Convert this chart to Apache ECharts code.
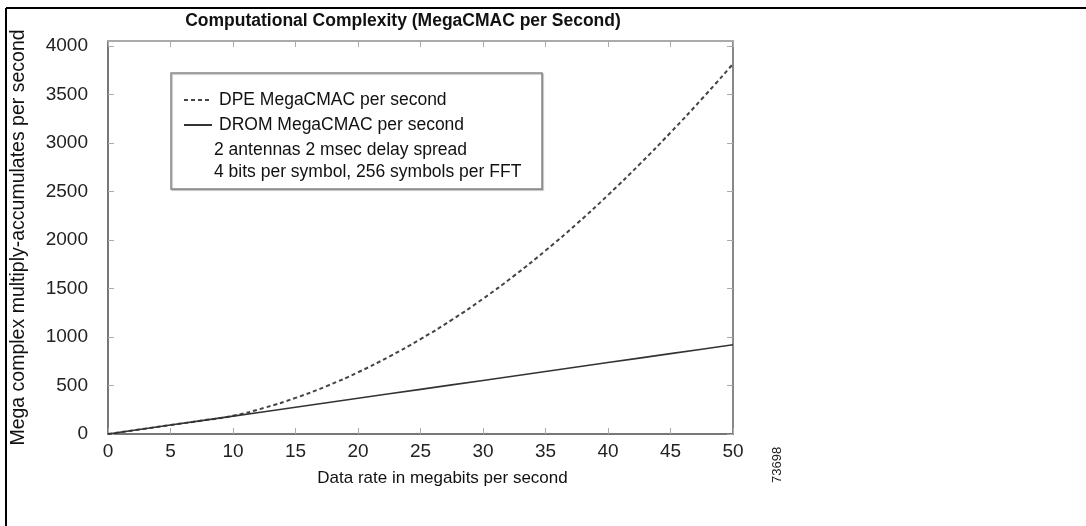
<!DOCTYPE html>
<html>
<head>
<meta charset="utf-8">
<script src="https://cdn.jsdelivr.net/npm/echarts@6/dist/echarts.min.js"></script>
<style>
html,body{margin:0;padding:0;background:#fff;}
#chart{width:1086px;height:526px;}
</style>
</head>
<body>
<div id="chart"></div>
<script>
// Data rate (megabits per second)
var dataRate = [0, 2.5, 5, 7.5, 10, 12.5, 15, 17.5, 20, 22.5, 25, 27.5, 30, 32.5, 35, 37.5, 40, 42.5, 45, 47.5, 50];
// DPE MegaCMAC per second (dashed)
var dpeValues = [0, 46, 92, 138, 188, 270, 372, 494, 636, 798, 978, 1176, 1394, 1632, 1890, 2166, 2462, 2776, 3106, 3452, 3814];
// DROM MegaCMAC per second (solid)
var dromValues = [0, 46, 92, 138, 184, 230, 276, 322, 368, 414, 460, 506, 552, 598, 644, 690, 736, 782, 828, 874, 920];

var titleText = 'Computational Complexity (MegaCMAC per Second)';
var xName = 'Data rate in megabits per second';
var yName = 'Mega complex multiply-accumulates per second';
var seriesNames = ['DPE MegaCMAC per second', 'DROM MegaCMAC per second'];
var noteLines = ['2 antennas 2 msec delay spread', '4 bits per symbol, 256 symbols per FFT'];
var figureId = '73698';

function pairs(xs, ys) { return xs.map(function (x, i) { return [x, ys[i]]; }); }

var FONT = 'Liberation Sans, Arial, sans-serif';
var chart = echarts.init(document.getElementById('chart'), null, {renderer: 'canvas'});

var option = {
  backgroundColor: '#fff',
  animation: false,
  title: {
    text: titleText,
    left: 398, top: 7, textAlign: 'center',
    textStyle: {fontFamily: FONT, fontSize: 17.5, fontWeight: 'bold', color: '#111'}
  },
  grid: {left: 108, top: 41, right: 353, bottom: 92, show: false, containLabel: false, outerBoundsMode: 'none'},
  legend: {
    data: [
      {name: seriesNames[0]},
      {name: seriesNames[1]}
    ],
    orient: 'vertical',
    left: 178, top: 86,
    itemWidth: 28, itemHeight: 10, itemGap: 7,
    itemStyle: {opacity: 0},
    textStyle: {fontFamily: FONT, fontSize: 17.5, color: '#111', padding: [0, 0, 0, 2]},
    selectedMode: false
  },
  xAxis: [{
    type: 'value', min: 0, max: 50, interval: 5,
    name: xName, nameLocation: 'middle', nameGap: 36,
    nameTextStyle: {fontFamily: FONT, fontSize: 17, color: '#111', padding: [0, 0, 0, 44]},
    axisLine: {show: true, onZero: false, lineStyle: {color: '#777', width: 2}},
    axisTick: {show: true, inside: true, length: 6, lineStyle: {color: '#aaa'}},
    axisLabel: {fontFamily: FONT, fontSize: 19, color: '#222', margin: 8},
    splitLine: {show: false}
  }, {
    type: 'value', min: 0, max: 50, interval: 5, position: 'top',
    axisLine: {show: true, onZero: false, lineStyle: {color: '#aaa', width: 2}},
    axisTick: {show: true, inside: true, length: 6, lineStyle: {color: '#aaa'}},
    axisLabel: {show: false},
    splitLine: {show: false}
  }],
  yAxis: [{
    type: 'value', min: 0, max: 4050, interval: 500,
    name: yName, nameLocation: 'middle', nameGap: 79,
    nameTextStyle: {fontFamily: FONT, fontSize: 19.5, color: '#111'},
    axisLine: {show: true, onZero: false, lineStyle: {color: '#777', width: 2}},
    axisTick: {show: true, inside: true, length: 6, lineStyle: {color: '#aaa'}},
    axisLabel: {
      fontFamily: FONT, fontSize: 19, color: '#222', margin: 20,
      formatter: function (v) { return v % 500 === 0 ? String(v) : ''; }
    },
    splitLine: {show: false}
  }, {
    type: 'value', min: 0, max: 4050, interval: 500, position: 'right',
    axisLine: {show: true, onZero: false, lineStyle: {color: '#888', width: 2}},
    axisTick: {show: true, inside: true, length: 6, lineStyle: {color: '#aaa'}},
    axisLabel: {show: false},
    splitLine: {show: false}
  }],
  series: [{
    name: seriesNames[0], type: 'line', xAxisIndex: 0, yAxisIndex: 0,
    data: pairs(dataRate, dpeValues), smooth: true, symbol: 'none',
    lineStyle: {color: '#444', width: 2, type: [4, 3]},
    itemStyle: {color: '#444'}
  }, {
    name: seriesNames[1], type: 'line', xAxisIndex: 0, yAxisIndex: 0,
    data: pairs(dataRate, dromValues), symbol: 'none',
    lineStyle: {color: '#333', width: 1.6},
    itemStyle: {color: '#555'}
  }],
  graphic: [
    {type: 'line', shape: {x1: 6, y1: 8, x2: 1086, y2: 8}, style: {stroke: '#000', lineWidth: 2}, z: 100},
    {type: 'line', shape: {x1: 6, y1: 8, x2: 6, y2: 526}, style: {stroke: '#000', lineWidth: 2}, z: 100},
    {type: 'rect', shape: {x: 171, y: 73, width: 371, height: 116},
      style: {fill: '#fff', stroke: '#888', lineWidth: 1.5, shadowColor: 'rgba(0,0,0,0.25)', shadowOffsetX: 1, shadowOffsetY: 1, shadowBlur: 1}, z: 3},
    {type: 'text', left: 214, top: 141, style: {text: noteLines[0], font: '17.5px ' + FONT, fill: '#111'}, z: 10},
    {type: 'text', left: 214, top: 163, style: {text: noteLines[1], font: '17.5px ' + FONT, fill: '#111'}, z: 10},
    {type: 'text', x: 771, y: 483, rotation: Math.PI / 2, style: {text: figureId, font: '13px ' + FONT, fill: '#222'}, z: 10}
  ]
};
chart.setOption(option);
</script>
</body>
</html>
